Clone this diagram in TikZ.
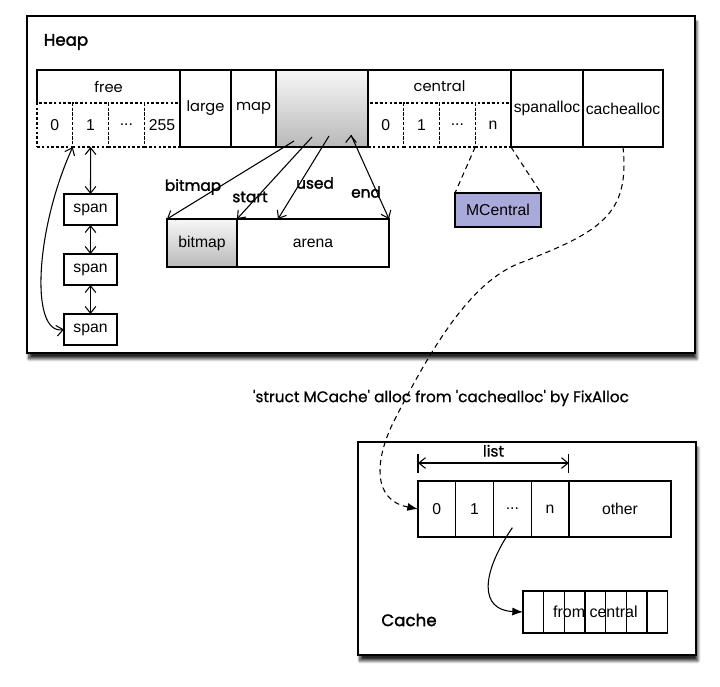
\documentclass[tikz,border=0pt]{standalone}
\usepackage{fontspec}
\setmainfont{Liberation Sans}
\newfontfamily\geofont{Poppins}
\newfontfamily\geomid[FakeBold=0.8]{Poppins}
\newfontfamily\geobold[FakeBold=1.8]{Poppins}
\usepackage{tikz}
\usetikzlibrary{positioning, arrows.meta, shadows.blur}
\definecolor{mcentral}{RGB}{170,170,218}
\tikzset{
    field/.style={ % every box of a row
        draw, line width=0.9pt,
        inner sep=0pt, outer sep=0pt,
        font=\fontsize{11.8}{13}\selectfont
    },
    slot/.style={ % dotted sub cells of free and central
        field, dash pattern=on 2pt off 1.6pt,
        minimum width=26.8pt, minimum height=33pt
    },
    hdr/.style={inner sep=0pt, outer sep=0pt,
        minimum width=107.25pt, minimum height=24.75pt},
    word/.style={font=\geofont\fontsize{11}{13}\selectfont},
    whole/.style={field, minimum height=57.75pt},
    faded/.style={top color=gray!6, bottom color=gray!55},
    panel/.style={ % the two big frames
        draw, line width=1.2pt, fill=white,
        blur shadow={shadow xshift=1.5pt, shadow yshift=-4.5pt,
                     shadow blur steps=10, shadow opacity=85}
    },
    title/.style={font=\geobold\fontsize{12.5}{15}\selectfont},
    tag/.style={font=\geobold\fontsize{11.5}{13}\selectfont},
    spanbox/.style={field, minimum width=39.75pt, minimum height=23.25pt},
    ptr/.style={->, line width=0.8pt},
    link/.style={-{Latex[length=8pt,width=6pt]}, line width=0.8pt},
    >={Straight Barb[length=5pt,width=8pt]}
}

\begin{document}
\begin{tikzpicture}[x=0.75pt, y=-0.75pt]
    \useasboundingbox (0,0) rectangle (720,686);
    % frames
    \node[panel, minimum width=501pt, minimum height=252.75pt, anchor=north west] (heap) at (26,15) {};
    \node[panel, minimum width=253.5pt, minimum height=159.75pt, anchor=north west] (cache) at (357,441) {};
    \node[title] (heaplbl) at (66,42) {Heap};
    \node[title] (cachelbl) at (409,620) {Cache};

    % heap row: free
    \node[slot, anchor=north west]  (f0)    at (37,103)    {0};
    \node[slot, right=0pt of f0]    (f1)    {1};
    \node[slot, right=0pt of f1]    (f2)    {...};
    \node[slot, right=0pt of f2]    (f3)    {255};
    \node[hdr, word, anchor=south west] (free) at (f0.north west) {free};
    \draw[line width=0.9pt] (free.south west) |- (free.north east);
    % heap row: large, map, arena pointers
    \node[whole, word, minimum width=38.25pt, anchor=north west] (large) at (free.north east) {large};
    \node[whole, word, minimum width=33.75pt, right=0pt of large] (map)  {map};
    \node[whole, faded, minimum width=69pt, right=0pt of map]     (pool) {};
    % heap row: central
    \node[hdr, word, anchor=north west] (central) at (pool.north east) {central};
    \node[slot, anchor=north west]  (c0)    at (central.south west) {0};
    \node[slot, right=0pt of c0]    (c1)    {1};
    \node[slot, right=0pt of c1]    (c2)    {...};
    \node[slot, right=0pt of c2]    (c3)    {n};
    \draw[line width=0.9pt] (central.north west) -- (central.north east);
    % heap row: fixallocs
    \node[whole, minimum width=54pt, anchor=north west] (spanalloc) at (central.north east) {spanalloc};
    \node[whole, minimum width=60pt, right=0pt of spanalloc] (cachealloc) {cachealloc};

    % spans
    \node[spanbox]                      (span1) at (90.5,209.5) {span};
    \node[spanbox, below=21.75pt of span1] (span2) {span};
    \node[spanbox, below=21.75pt of span2] (span3) {span};

    % bitmap + arena
    \node[field, faded, minimum width=52.5pt, minimum height=36pt, anchor=north west] (bitmap) at (167,219) {bitmap};
    \node[field, minimum width=114pt, minimum height=36pt, right=0pt of bitmap] (arena) {arena};
    \coordinate (pbm) at (294,141);
    \coordinate (pst) at (312,137);
    \coordinate (pus) at (329,136);
    \coordinate (pen) at (351,135);
    \coordinate (usedpos) at (278,219);

    % mcentral
    \node[field, fill=mcentral, minimum width=64.5pt, minimum height=25.5pt] (mcent) at (498,210) {MCentral};

    \draw[<->, line width=0.8pt]
            (f1.south)      edge    (span1.north)
            (span1)         edge    (span2)
            (span2)         edge    (span3)
            (f1.south west) .. controls (35,230) and (30,335) .. (span3.west);
    \draw[ptr]
            (pbm)   edge    (bitmap.north west)
            (pst)   edge    (arena.north west)
            (pus)   edge    (usedpos)
            (pen)   edge    (arena.north east);
    \node[tag] (lbm) at (193,187) {bitmap};
    \node[tag] (lst) at (250,197) {start};
    \node[tag] (lus) at (315,183) {used};
    \node[tag] (len) at (366,192) {end};
    \draw[line width=0.8pt, dash pattern=on 4pt off 3pt]
            (c3.south west) edge (mcent.north west)
            (c3.south east) edge (mcent.north east);

    % cache
    \node[field, minimum width=28.3pt, minimum height=42pt, anchor=north west] (k0) at (418,481) {0};
    \node[field, minimum width=28.3pt, minimum height=42pt, right=0pt of k0] (k1) {1};
    \node[field, minimum width=28.3pt, minimum height=42pt, right=0pt of k1] (k2) {...};
    \node[field, minimum width=28.3pt, minimum height=42pt, right=0pt of k2] (k3) {n};
    \node[field, minimum width=76.5pt, minimum height=42pt, right=0pt of k3] (other) {other};
    \coordinate[above=6pt of k0.north west] (lstlo);
    \coordinate[above=6pt of k3.north east] (lstro);
    \coordinate[above=20pt of k0.north west] (lsthi);
    \coordinate[above=20pt of k3.north east] (lstrhi);
    \draw[line width=0.8pt] (lstlo) -- (lsthi) (lstro) -- (lstrhi);
    \draw[<->, line width=0.8pt] ([yshift=7.5pt]lstlo) -- node[font=\geomid\fontsize{11.5}{13}\selectfont, above=1pt] (listlbl) {list} ([yshift=7.5pt]lstro);

    % from central
    \node[field, minimum width=15.5pt, minimum height=31.5pt, anchor=north west] (fc1) at (523,591) {};
    \foreach \i [count=\j from 1] in {2,...,7}
        \node[field, minimum width=15.5pt, minimum height=31.5pt, right=0pt of fc\j] (fc\i) {};
    \node[font=\fontsize{12}{13}\selectfont] (fromcentral) at (fc4) {from central};
    \draw[link] ([yshift=7pt]k2.south) .. controls (480,575) and (480,610) .. (fc1.west);

    % cachealloc -> cache
    \node[font=\geomid\fontsize{11.5}{14}\selectfont] (note) at (441,398)
        {\textquotesingle struct MCache\textquotesingle{} alloc from \textquotesingle cachealloc\textquotesingle{} by FixAlloc};
    \draw[link, dash pattern=on 4pt off 3pt] (cachealloc.south)
            .. controls (630,215) and (600,232) .. (520,263)
            .. controls (470,282) and (430,350) .. (393,423)
            .. controls (375,460) and (372,500) .. (k0.west);
\end{tikzpicture}
\end{document}
